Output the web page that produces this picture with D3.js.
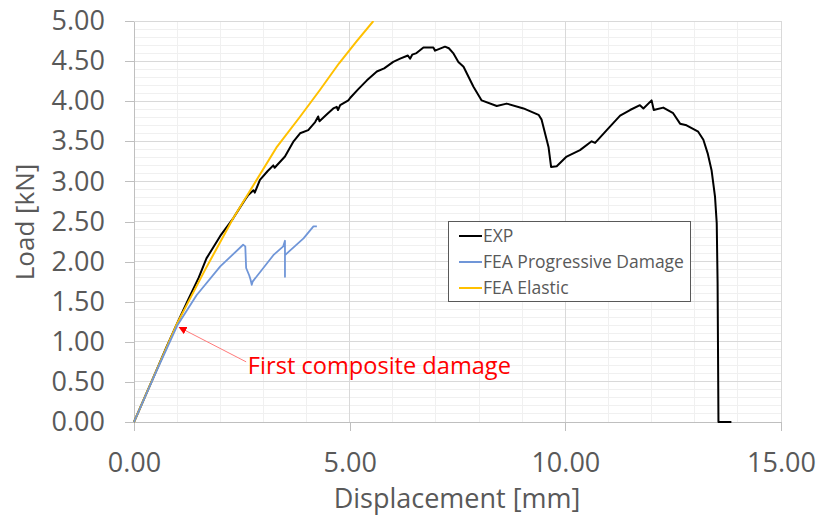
<!DOCTYPE html>
<html>
<head>
<meta charset="utf-8">
<script src="https://cdn.jsdelivr.net/npm/d3@7"></script>
<style>
  html, body { margin: 0; padding: 0; background: #fff; }
  svg { display: block; font-family: "Open Sans", "Liberation Sans", sans-serif; }
</style>
</head>
<body>
<svg id="chart" width="818" height="519"></svg>
<script>
// ---- Data ----
const expX = [0,0.25,0.5,0.75,1.0,1.25,1.5,1.68,2.0,2.3,2.57,2.65,2.77,2.80,2.92,3.1,3.23,3.26,3.5,3.7,3.85,4.04,4.2,4.27,4.3,4.46,4.62,4.7,4.73,4.78,4.97,5.01,5.2,5.4,5.63,5.8,6.01,6.17,6.35,6.4,6.45,6.55,6.71,6.94,6.98,7.21,7.3,7.4,7.52,7.64,7.87,8.06,8.41,8.64,9.03,9.38,9.45,9.61,9.67,9.8,10.03,10.34,10.61,10.69,10.96,11.27,11.5,11.73,11.81,12.0,12.05,12.27,12.5,12.66,12.81,13.08,13.2,13.3,13.39,13.47,13.51,13.53,13.55,13.85];
const expY = [0,0.31,0.62,0.93,1.23,1.52,1.8,2.04,2.32,2.54,2.77,2.83,2.89,2.86,3.02,3.13,3.2,3.17,3.31,3.5,3.6,3.64,3.74,3.81,3.75,3.83,3.91,3.93,3.89,3.95,4.01,4.04,4.15,4.26,4.37,4.41,4.49,4.53,4.57,4.53,4.58,4.6,4.67,4.67,4.63,4.68,4.66,4.6,4.49,4.43,4.18,4.01,3.94,3.97,3.91,3.83,3.77,3.43,3.18,3.19,3.31,3.39,3.5,3.48,3.64,3.82,3.89,3.95,3.91,4.01,3.89,3.92,3.85,3.72,3.7,3.62,3.52,3.35,3.14,2.81,2.48,1.73,0,0];

const pdX = [0,0.5,1.0,1.45,2.0,2.53,2.58,2.6,2.67,2.7,2.73,2.75,3.23,3.46,3.5,3.5,3.5,3.93,4.16,4.24];
const pdY = [0,0.61,1.2,1.58,1.94,2.21,2.19,1.92,1.83,1.78,1.71,1.75,2.08,2.19,2.26,1.81,2.08,2.29,2.44,2.44];

const elX = [0,0.5,1.0,1.65,2.3,2.8,3.3,3.84,4.31,4.75,5.15,5.55];
const elY = [0,0.62,1.23,1.9,2.54,2.98,3.42,3.8,4.14,4.47,4.74,5.0];

const xTicks = [0, 5, 10, 15];
const yTicks = [0,0.5,1,1.5,2,2.5,3,3.5,4,4.5,5];
const seriesNames = ["EXP", "FEA Progressive Damage", "FEA Elastic"];
const seriesColors = ["#000000", "#7096d8", "#ffc000"];
const annotationText = "First composite damage";
const annotationTip = [1.05, 1.18];
const annotationTail = [2.6, 0.75];
const annotationLabel = [2.64, 0.593];

// ---- Layout ----
const svg = d3.select("#chart");
const x = d3.scaleLinear().domain([0, 15]).range([134, 781]);
const y = d3.scaleLinear().domain([0, 5]).range([422, 21]);

// minor gridlines
const gMinor = svg.append("g");
gMinor.selectAll("line.hy").data(d3.range(0, 50).map(i => i / 10).filter(v => Math.round(v * 10) % 5 !== 0))
  .join("line").attr("x1", x(0)).attr("x2", x(15)).attr("y1", d => y(d)).attr("y2", d => y(d))
  .attr("stroke", "#f0f0f0").attr("stroke-width", 1).attr("shape-rendering", "crispEdges");
gMinor.selectAll("line.vx").data(d3.range(1, 15).filter(v => v % 5 !== 0))
  .join("line").attr("y1", y(0)).attr("y2", y(5)).attr("x1", d => x(d)).attr("x2", d => x(d))
  .attr("stroke", "#f0f0f0").attr("stroke-width", 1).attr("shape-rendering", "crispEdges");

// major gridlines
const gMajor = svg.append("g");
gMajor.selectAll("line.h").data(yTicks.slice(1))
  .join("line").attr("x1", x(0)).attr("x2", x(15)).attr("y1", d => y(d)).attr("y2", d => y(d))
  .attr("stroke", "#d9d9d9").attr("stroke-width", 1).attr("shape-rendering", "crispEdges");
gMajor.selectAll("line.v").data(xTicks.slice(1))
  .join("line").attr("y1", y(0)).attr("y2", y(5)).attr("x1", d => x(d)).attr("x2", d => x(d))
  .attr("stroke", "#d9d9d9").attr("stroke-width", 1).attr("shape-rendering", "crispEdges");

// axes
const fmt = d3.format(".2f");
const xAxis = svg.append("g").attr("transform", `translate(0,${y(0)})`)
  .call(d3.axisBottom(x).tickValues(xTicks).tickFormat(fmt).tickSizeOuter(0).tickSizeInner(9).tickPadding(22));
const yAxis = svg.append("g").attr("transform", `translate(${x(0)},0)`)
  .call(d3.axisLeft(y).tickValues(yTicks).tickFormat(fmt).tickSizeOuter(0).tickSizeInner(9).tickPadding(20));
[xAxis, yAxis].forEach(a => {
  a.select(".domain").attr("stroke", "#bfbfbf").attr("shape-rendering", "crispEdges");
  a.selectAll(".tick line").attr("stroke", "#bfbfbf").attr("shape-rendering", "crispEdges");
  a.selectAll(".tick text").attr("fill", "#595959").style("font-size", "27px")
    .style("font-family", '"Open Sans", sans-serif');
});
xAxis.selectAll(".tick text").attr("dy", "0.71em");

// axis titles
svg.append("text").attr("x", 457).attr("y", 508).attr("text-anchor", "middle")
  .attr("fill", "#595959").style("font-size", "27px").text("Displacement [mm]");
svg.append("text").attr("transform", "translate(34,222) rotate(-90)").attr("text-anchor", "middle")
  .attr("fill", "#595959").style("font-size", "26px").text("Load [kN]");

// clip
svg.append("clipPath").attr("id", "clip").append("rect")
  .attr("x", x(0) - 2).attr("y", y(5)).attr("width", x(15) - x(0) + 4).attr("height", y(0) - y(5) + 2);

const line = d3.line().x(d => x(d[0])).y(d => y(d[1]));
const gData = svg.append("g").attr("clip-path", "url(#clip)");
const series = [d3.zip(expX, expY), d3.zip(pdX, pdY), d3.zip(elX, elY)];
const widths = [2, 1.8, 2];
[0, 2, 1].forEach(i => {
  gData.append("path").datum(series[i]).attr("d", line)
    .attr("fill", "none").attr("stroke", seriesColors[i]).attr("stroke-width", widths[i])
    .attr("stroke-linejoin", "round");
});

// annotation
const defs = svg.append("defs");
defs.append("marker").attr("id", "arrow").attr("viewBox", "0 0 10 10").attr("refX", 9).attr("refY", 5)
  .attr("markerWidth", 8).attr("markerHeight", 8).attr("markerUnits", "userSpaceOnUse").attr("orient", "auto")
  .append("path").attr("d", "M0,0 L10,5 L0,10 z").attr("fill", "#ff0000");
svg.append("line")
  .attr("x1", x(annotationTail[0])).attr("y1", y(annotationTail[1]))
  .attr("x2", x(annotationTip[0])).attr("y2", y(annotationTip[1]))
  .attr("stroke", "#ff7a7a").attr("stroke-width", 1).attr("marker-end", "url(#arrow)");
svg.append("text").attr("x", x(annotationLabel[0])).attr("y", y(annotationLabel[1]))
  .attr("fill", "#ff0000").style("font-size", "23.6px").text(annotationText);

// legend
const lg = svg.append("g");
lg.append("rect").attr("x", 448.5).attr("y", 221.5).attr("width", 242).attr("height", 80)
  .attr("fill", "#fff").attr("stroke", "#595959").attr("stroke-width", 1);
seriesNames.forEach((name, i) => {
  const cy = 236 + i * 26;
  lg.append("line").attr("x1", 459).attr("x2", 482).attr("y1", cy).attr("y2", cy)
    .attr("stroke", seriesColors[i]).attr("stroke-width", 2);
  lg.append("text").attr("x", 483).attr("y", cy).attr("dy", "0.35em")
    .attr("fill", "#595959").style("font-size", "17.5px").text(name);
});
</script>
</body>
</html>
